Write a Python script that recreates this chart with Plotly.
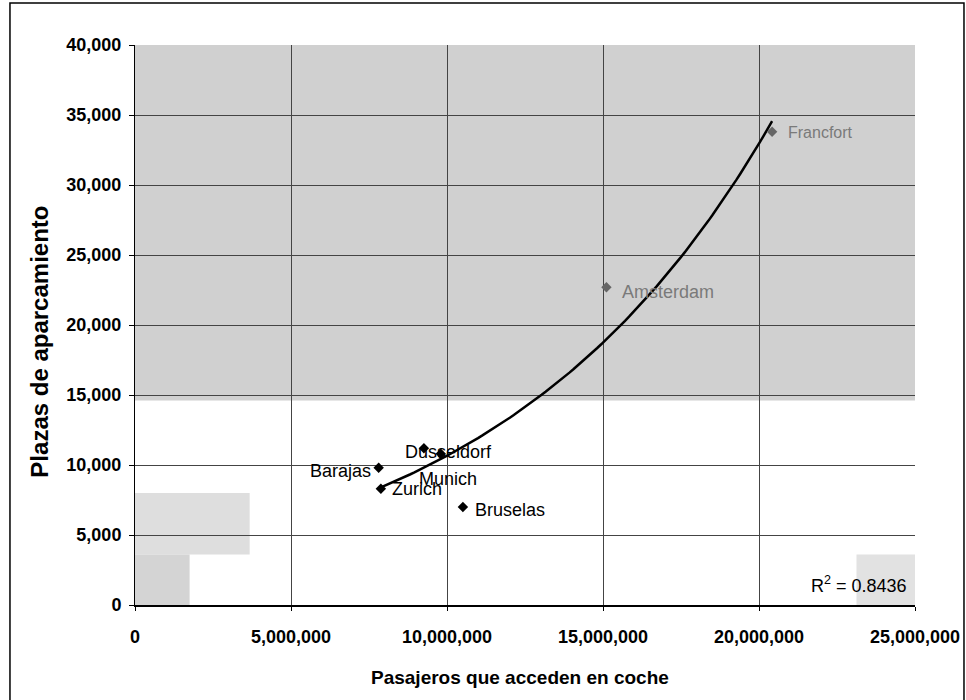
import numpy as np
import plotly.graph_objects as go

# Data
ciudades = ["Barajas", "Zurich", "Dusseldorf", "Munich", "Bruselas", "Amsterdam", "Francfort"]
pasajeros = [7810000, 7880000, 9260000, 9800000, 10510000, 15110000, 20420000]
plazas = [9800, 8300, 11200, 10800, 7000, 22700, 33800]
r2_text = "R<sup>2</sup> = 0.8436"
x_title = "Pasajeros que acceden en coche"
y_title = "Plazas de aparcamiento"

x_ticks = [0, 5000000, 10000000, 15000000, 20000000, 25000000]
y_ticks = [0, 5000, 10000, 15000, 20000, 25000, 30000, 35000, 40000]

# Exponential trendline (least squares on ln y)
xa = np.array(pasajeros, dtype=float)
ya = np.array(plazas, dtype=float)
b, a = np.polyfit(xa, np.log(ya), 1)
xt = np.linspace(xa.min(), xa.max(), 100)
yt = np.exp(a) * np.exp(b * xt)

FONT = "Liberation Sans, Arial"

# label styling: (xanchor, xshift, yshift, color, size)
label_style = {
    "Barajas": ("right", -6, -3, "black", 18),
    "Zurich": ("left", 9, 0, "black", 18),
    "Dusseldorf": ("left", -21, -4, "black", 18),
    "Munich": ("center", 7, -25, "black", 18),
    "Bruselas": ("left", 10, -3, "black", 18),
    "Amsterdam": ("left", 14, -5, "#7a7a7a", 18),
    "Francfort": ("left", 14, -1, "#7a7a7a", 16),
}
marker_colors = ["black", "black", "black", "black", "black", "#666666", "#666666"]

fig = go.Figure()

fig.add_trace(go.Scatter(
    x=xt, y=yt, mode="lines",
    line=dict(color="black", width=2.5),
    hoverinfo="skip", showlegend=False,
))
fig.add_trace(go.Scatter(
    x=pasajeros, y=plazas, mode="markers",
    marker=dict(symbol="diamond", size=8, color=marker_colors),
    text=ciudades, showlegend=False,
))

annotations = []
for c, xv, yv in zip(ciudades, pasajeros, plazas):
    anc, xs, ys, col, sz = label_style[c]
    annotations.append(dict(
        x=xv, y=yv, text=c, showarrow=False, xanchor=anc, yanchor="middle",
        xshift=xs, yshift=ys,
        font=dict(family=FONT, size=sz, color=col),
    ))
annotations.append(dict(
    x=1.0, y=0.036, xref="paper", yref="paper", text=r2_text, showarrow=False,
    xanchor="right", yanchor="middle", xshift=-6,
    font=dict(family=FONT, size=18, color="black"),
))
annotations.append(dict(
    x=0.494, y=-0.130, xref="paper", yref="paper", text="<b>" + x_title + "</b>",
    showarrow=False, xanchor="center", yanchor="middle",
    font=dict(family=FONT, size=19, color="black"),
))
annotations.append(dict(
    x=-0.122, y=0.47, xref="paper", yref="paper", text="<b>" + y_title + "</b>",
    showarrow=False, xanchor="center", yanchor="middle", textangle=-90,
    font=dict(family=FONT, size=24, color="black"),
))

shapes = [
    # scanned grey background in upper area
    dict(type="rect", xref="paper", yref="y", x0=0, x1=1, y0=14600, y1=40000,
         fillcolor="#d0d0d0", line=dict(width=0), layer="below"),
    dict(type="rect", xref="paper", yref="paper", x0=0, x1=0.147, y0=0.09, y1=0.2,
         fillcolor="#dedede", line=dict(width=0), layer="below"),
    dict(type="rect", xref="paper", yref="paper", x0=0, x1=0.07, y0=0.0, y1=0.09,
         fillcolor="#d4d4d4", line=dict(width=0), layer="below"),
    dict(type="rect", xref="paper", yref="paper", x0=0.925, x1=1.0, y0=0.0, y1=0.09,
         fillcolor="#e2e2e2", line=dict(width=0), layer="below"),
    # outer frame
    dict(type="rect", xref="paper", yref="paper", x0=-0.1603, x1=1.0628, y0=-0.2, y1=1.075,
         fillcolor="rgba(0,0,0,0)", line=dict(color="black", width=1.5)),
]

fig.update_layout(
    width=966, height=700,
    margin=dict(l=135, r=51, t=45, b=95, autoexpand=False),
    paper_bgcolor="white", plot_bgcolor="white",
    font=dict(family=FONT, size=14, color="black"),
    annotations=annotations, shapes=shapes,
    xaxis=dict(
        range=[0, 25000000], tickvals=x_ticks, tickformat=",d",
        showgrid=True, gridcolor="#444444", gridwidth=1,
        showline=True, linecolor="black", linewidth=2,
        ticks="outside", ticklen=4, tickcolor="black",
        tickfont=dict(family=FONT, size=18, color="black", weight="bold"),
        zeroline=False, ticklabelstandoff=10, automargin=False,
    ),
    yaxis=dict(
        range=[0, 40000], tickvals=y_ticks, tickformat=",d",
        showgrid=True, gridcolor="#444444", gridwidth=1,
        showline=True, linecolor="black", linewidth=1,
        ticks="outside", ticklen=5, tickcolor="black",
        tickfont=dict(family=FONT, size=18, color="black", weight="bold"),
        zeroline=False, ticklabelstandoff=4, automargin=False,
    ),
)

fig.write_html("out.html")
